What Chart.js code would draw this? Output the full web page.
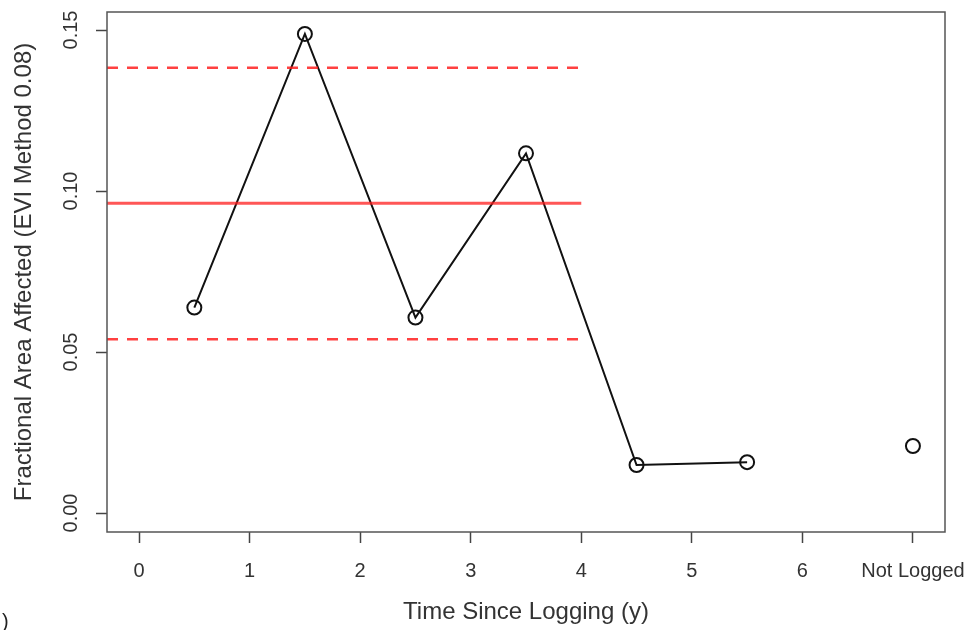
<!DOCTYPE html>
<html lang="en">
<head>
    <meta charset="UTF-8">
    <title>Fractional Area Affected vs Time Since Logging</title>
    <script src="https://cdn.jsdelivr.net/npm/chart.js"></script>
    <style>
        html, body {
            margin: 0;
            padding: 0;
            background: #fff;
        }
        .chart-container {
            position: relative;
            width: 971px;
            height: 630px;
        }
    </style>
</head>
<body>
    <div class="chart-container">
        <canvas id="myChart" width="971" height="630"></canvas>
    </div>
    <script>
        // values
        const loggedYears = [0.5, 1.5, 2.5, 3.5, 4.5, 5.5];
        const loggedFraction = [0.0638, 0.1488, 0.0607, 0.1117, 0.0149, 0.0158];
        const notLoggedX = 7;
        const notLoggedFraction = 0.0208;

        const meanLevel = 0.0962;
        const upperLevel = 0.1383;
        const lowerLevel = 0.0540;
        const bandX = [-0.29, 4];

        const xTicks = [0, 1, 2, 3, 4, 5, 6, 7];
        const xTickLabels = ['0', '1', '2', '3', '4', '5', '6', 'Not Logged'];
        const yTicks = [0, 0.05, 0.10, 0.15];

        const font = "'Liberation Sans', Arial, sans-serif";
        const grey = '#444';

        function hLine(level) {
            return bandX.map(x => ({ x: x, y: level }));
        }

        // frame around the plot area, like R's box()
        const boxPlugin = {
            id: 'box',
            afterDatasetsDraw(chart) {
                const a = chart.chartArea;
                const ctx = chart.ctx;
                ctx.save();
                ctx.strokeStyle = '#555';
                ctx.lineWidth = 1.5;
                ctx.strokeRect(a.left, a.top, a.right - a.left, a.bottom - a.top);
                ctx.fillStyle = '#222';
                ctx.font = '20px ' + font;
                ctx.fillText(')', 2, 628);
                ctx.restore();
            }
        };

        const ctx = document.getElementById('myChart').getContext('2d');
        new Chart(ctx, {
            type: 'scatter',
            data: {
                datasets: [
                    {
                        label: 'Upper',
                        data: hLine(upperLevel),
                        showLine: true,
                        borderColor: 'rgba(255, 30, 30, 0.85)',
                        borderWidth: 2.5,
                        borderDash: [11, 9],
                        pointRadius: 0
                    },
                    {
                        label: 'Mean',
                        data: hLine(meanLevel),
                        showLine: true,
                        borderColor: 'rgba(255, 30, 30, 0.75)',
                        borderWidth: 3,
                        pointRadius: 0
                    },
                    {
                        label: 'Lower',
                        data: hLine(lowerLevel),
                        showLine: true,
                        borderColor: 'rgba(255, 30, 30, 0.85)',
                        borderWidth: 2.5,
                        borderDash: [11, 9],
                        pointRadius: 0
                    },
                    {
                        label: 'Logged',
                        data: loggedYears.map((x, i) => ({ x: x, y: loggedFraction[i] })),
                        showLine: true,
                        borderColor: '#111',
                        borderWidth: 2,
                        pointRadius: 7,
                        pointBorderWidth: 2,
                        pointBorderColor: '#111',
                        pointBackgroundColor: 'rgba(0,0,0,0)'
                    },
                    {
                        label: 'Not Logged',
                        data: [{ x: notLoggedX, y: notLoggedFraction }],
                        showLine: false,
                        pointRadius: 7,
                        pointBorderWidth: 2,
                        pointBorderColor: '#111',
                        pointBackgroundColor: 'rgba(0,0,0,0)'
                    }
                ]
            },
            options: {
                responsive: false,
                animation: false,
                layout: {
                    padding: { top: 12, right: 26, bottom: 0, left: 0 }
                },
                plugins: {
                    legend: { display: false },
                    tooltip: { enabled: false }
                },
                scales: {
                    x: {
                        type: 'linear',
                        min: -0.29,
                        max: 7.29,
                        afterBuildTicks: scale => {
                            scale.ticks = xTicks.map(v => ({ value: v }));
                        },
                        afterFit: scale => {
                            scale.height = 98;
                            scale.paddingLeft = 0;
                            scale.paddingRight = 0;
                        },
                        grid: {
                            drawOnChartArea: false,
                            color: grey,
                            tickLength: 11,
                            tickWidth: 1.5
                        },
                        border: { display: false },
                        ticks: {
                            color: '#333',
                            font: { family: font, size: 20 },
                            padding: 16,
                            maxRotation: 0,
                            autoSkip: false,
                            callback: value => xTickLabels[xTicks.indexOf(value)]
                        },
                        title: {
                            display: true,
                            text: 'Time Since Logging (y)',
                            color: '#333',
                            font: { family: font, size: 24 },
                            padding: { top: 0, bottom: 3 }
                        }
                    },
                    y: {
                        min: -0.0059,
                        max: 0.1556,
                        afterBuildTicks: scale => {
                            scale.ticks = yTicks.map(v => ({ value: v }));
                        },
                        afterFit: scale => {
                            scale.width = 107;
                            scale.paddingTop = 0;
                            scale.paddingBottom = 0;
                        },
                        grid: {
                            drawOnChartArea: false,
                            color: grey,
                            tickLength: 11,
                            tickWidth: 1.5
                        },
                        border: { display: false },
                        ticks: {
                            color: '#333',
                            font: { family: font, size: 20 },
                            padding: 5,
                            minRotation: 90,
                            maxRotation: 90,
                            crossAlign: 'center',
                            callback: value => value.toFixed(2)
                        },
                        title: {
                            display: true,
                            text: 'Fractional Area Affected (EVI Method 0.08)',
                            color: '#333',
                            font: { family: font, size: 24 },
                            padding: { top: 10, bottom: 0 }
                        }
                    }
                }
            },
            plugins: [boxPlugin]
        });
    </script>
</body>
</html>
